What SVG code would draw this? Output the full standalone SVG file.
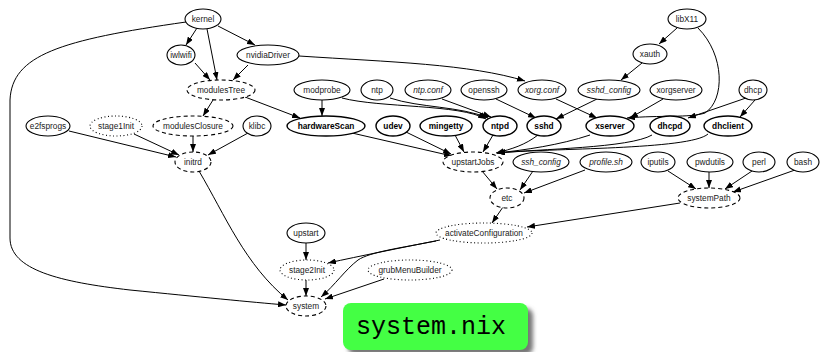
<svg xmlns="http://www.w3.org/2000/svg" width="820" height="352" viewBox="0 0 820 352">
  <style>
    .n ellipse { fill: #fff; stroke: #000; stroke-width: 1.1; }
    .n text { font-family: "Liberation Sans", Arial, sans-serif; font-size: 8.3px; fill: #222; text-anchor: middle; }
    .dashed ellipse { stroke-dasharray: 4 3; }
    .dotted ellipse { stroke-dasharray: 1 2.5; }
    .bold ellipse { stroke-width: 1.4; }
    .bold text { font-weight: bold; fill: #000; }
    .it text { font-style: italic; }
    #edges path { fill: none; stroke: #000; stroke-width: 1; marker-end: url(#arrow); }
    .title { font-family: "Liberation Mono", "Courier New", monospace; font-size: 25px; fill: #000; text-anchor: middle; }
  </style>
  <defs>
    <marker id="arrow" markerUnits="userSpaceOnUse" markerWidth="8" markerHeight="6" refX="8" refY="3" orient="auto">
      <path d="M0,0 L8,3 L0,6 z" fill="#000"/>
    </marker>
    <filter id="shadow" x="-20%" y="-40%" width="140%" height="180%">
      <feGaussianBlur stdDeviation="2.2"/>
    </filter>
  </defs>
  <rect width="820" height="352" fill="#fff"/>

  <g id="edges">
    <path d="M197,28 L186,45"/>
    <path d="M207,29 L217,80"/>
    <path d="M218,26 L255,45"/>
    <path d="M186,22 C 60,40 12,55 10,100 L 10,238 C 10,270 60,282 130,290 C 200,297 250,302 286,305"/>
    <path d="M195,63 L210,80"/>
    <path d="M248,65 L233,80"/>
    <path d="M299,56 C 390,62 470,64 525,81"/>
    <path d="M677,28 L659,44"/>
    <path d="M698,28 C 725,55 725,100 705,113 C 690,118 660,115 627,118"/>
    <path d="M642,63 L621,80"/>
    <path d="M213,100 L203,116"/>
    <path d="M245,97 L300,118"/>
    <path d="M322,100 L322,116"/>
    <path d="M342,98 C 380,108 460,104 486,119"/>
    <path d="M390,98 C 420,108 460,106 488,118"/>
    <path d="M442,99 L491,117"/>
    <path d="M496,99 L536,118"/>
    <path d="M556,99 L597,118"/>
    <path d="M597,99 L556,119"/>
    <path d="M663,99 L630,118"/>
    <path d="M746,98 L688,118"/>
    <path d="M755,100 L740,117"/>
    <path d="M69,131 L176,157"/>
    <path d="M134,134 L179,155"/>
    <path d="M193,136 L193,152"/>
    <path d="M248,133 L208,155"/>
    <path d="M352,133 L452,156"/>
    <path d="M406,132 L451,154"/>
    <path d="M455,135 L464,152"/>
    <path d="M493,135 L483,152"/>
    <path d="M538,135 C 525,145 512,149 496,153"/>
    <path d="M590,135 C 560,145 525,150 497,153"/>
    <path d="M652,135 C 630,148 540,149 497,153"/>
    <path d="M708,134 C 690,150 550,148 497,153"/>
    <path d="M199,171 C 225,215 245,265 288,300"/>
    <path d="M482,171 L497,189"/>
    <path d="M533,171 L520,190"/>
    <path d="M585,170 L524,193"/>
    <path d="M668,171 L696,189"/>
    <path d="M709,172 L709,188"/>
    <path d="M752,171 L725,189"/>
    <path d="M795,170 L733,192"/>
    <path d="M503,207 L492,223"/>
    <path d="M680,203 L527,227"/>
    <path d="M306,243 L306,260"/>
    <path d="M440,240 C 400,248 360,256 328,263"/>
    <path d="M436,241 C 400,248 370,252 358,260 C 345,270 335,285 321,297"/>
    <path d="M306,280 L306,296"/>
    <path d="M384,279 L325,299"/>
  </g>

  <g id="kernel" class="n"><ellipse cx="203" cy="19" rx="18" ry="10"/><text x="203" y="22">kernel</text></g>
  <g id="libX11" class="n"><ellipse cx="687" cy="19" rx="19" ry="10"/><text x="687" y="22">libX11</text></g>

  <g id="iwlwifi" class="n"><ellipse cx="181" cy="55" rx="14" ry="10"/><text x="181" y="58">iwlwifi</text></g>
  <g id="nvidiaDriver" class="n"><ellipse cx="268" cy="55" rx="31" ry="10"/><text x="268" y="58">nvidiaDriver</text></g>
  <g id="xauth" class="n"><ellipse cx="650" cy="54" rx="17" ry="10"/><text x="650" y="57">xauth</text></g>

  <g id="modulesTree" class="n dashed"><ellipse cx="221" cy="90" rx="34" ry="10"/><text x="221" y="93">modulesTree</text></g>
  <g id="modprobe" class="n"><ellipse cx="322" cy="90" rx="28" ry="10"/><text x="322" y="93">modprobe</text></g>
  <g id="ntp" class="n"><ellipse cx="377" cy="90" rx="16" ry="10"/><text x="377" y="93">ntp</text></g>
  <g id="ntp.conf" class="n it"><ellipse cx="428" cy="90" rx="23" ry="10"/><text x="428" y="93">ntp.conf</text></g>
  <g id="openssh" class="n"><ellipse cx="484" cy="90" rx="23" ry="10"/><text x="484" y="93">openssh</text></g>
  <g id="xorg.conf" class="n it"><ellipse cx="542" cy="90" rx="24" ry="10"/><text x="542" y="93">xorg.conf</text></g>
  <g id="sshd_config" class="n it"><ellipse cx="609" cy="90" rx="31" ry="10"/><text x="609" y="93">sshd_config</text></g>
  <g id="xorgserver" class="n"><ellipse cx="676" cy="90" rx="26" ry="10"/><text x="676" y="93">xorgserver</text></g>
  <g id="dhcp" class="n"><ellipse cx="753" cy="90" rx="14" ry="10"/><text x="753" y="93">dhcp</text></g>

  <g id="e2fsprogs" class="n"><ellipse cx="48" cy="126" rx="22" ry="10"/><text x="48" y="129">e2fsprogs</text></g>
  <g id="stage1Init" class="n dotted"><ellipse cx="116" cy="126" rx="26" ry="10"/><text x="116" y="129">stage1Init</text></g>
  <g id="modulesClosure" class="n dashed"><ellipse cx="193" cy="126" rx="40" ry="10"/><text x="193" y="129">modulesClosure</text></g>
  <g id="klibc" class="n"><ellipse cx="257" cy="126" rx="14" ry="10"/><text x="257" y="129">klibc</text></g>
  <g id="hardwareScan" class="n bold"><ellipse cx="326" cy="126" rx="39" ry="10"/><text x="326" y="129">hardwareScan</text></g>
  <g id="udev" class="n bold"><ellipse cx="393" cy="126" rx="17" ry="10"/><text x="393" y="129">udev</text></g>
  <g id="mingetty" class="n bold"><ellipse cx="446" cy="126" rx="26" ry="10"/><text x="446" y="129">mingetty</text></g>
  <g id="ntpd" class="n bold"><ellipse cx="500" cy="126" rx="17" ry="10"/><text x="500" y="129">ntpd</text></g>
  <g id="sshd" class="n bold"><ellipse cx="544" cy="126" rx="17" ry="10"/><text x="544" y="129">sshd</text></g>
  <g id="xserver" class="n bold"><ellipse cx="610" cy="126" rx="24" ry="10"/><text x="610" y="129">xserver</text></g>
  <g id="dhcpd" class="n bold"><ellipse cx="670" cy="126" rx="20" ry="10"/><text x="670" y="129">dhcpd</text></g>
  <g id="dhclient" class="n bold"><ellipse cx="728" cy="126" rx="24" ry="10"/><text x="728" y="129">dhclient</text></g>

  <g id="initrd" class="n dashed"><ellipse cx="193" cy="162" rx="18" ry="10"/><text x="193" y="165">initrd</text></g>
  <g id="upstartJobs" class="n dashed"><ellipse cx="473" cy="162" rx="30" ry="10"/><text x="473" y="165">upstartJobs</text></g>
  <g id="ssh_config" class="n it"><ellipse cx="541" cy="162" rx="28" ry="10"/><text x="541" y="165">ssh_config</text></g>
  <g id="profile.sh" class="n it"><ellipse cx="606" cy="162" rx="26" ry="10"/><text x="606" y="165">profile.sh</text></g>
  <g id="iputils" class="n"><ellipse cx="658" cy="162" rx="17" ry="10"/><text x="658" y="165">iputils</text></g>
  <g id="pwdutils" class="n"><ellipse cx="710" cy="162" rx="23" ry="10"/><text x="710" y="165">pwdutils</text></g>
  <g id="perl" class="n"><ellipse cx="759" cy="162" rx="16" ry="10"/><text x="759" y="165">perl</text></g>
  <g id="bash" class="n"><ellipse cx="803" cy="162" rx="16" ry="10"/><text x="803" y="165">bash</text></g>

  <g id="etc" class="n dashed"><ellipse cx="507" cy="198" rx="17" ry="10"/><text x="507" y="201">etc</text></g>
  <g id="systemPath" class="n dashed"><ellipse cx="709" cy="198" rx="31" ry="10"/><text x="709" y="201">systemPath</text></g>

  <g id="upstart" class="n"><ellipse cx="306" cy="233" rx="19" ry="10"/><text x="306" y="236">upstart</text></g>
  <g id="activateConfiguration" class="n dotted"><ellipse cx="484" cy="233" rx="48" ry="10"/><text x="484" y="236">activateConfiguration</text></g>

  <g id="stage2Init" class="n dotted"><ellipse cx="307" cy="270" rx="27" ry="10"/><text x="307" y="273">stage2Init</text></g>
  <g id="grubMenuBuilder" class="n dotted"><ellipse cx="410" cy="270" rx="42" ry="10"/><text x="410" y="273">grubMenuBuilder</text></g>

  <g id="system" class="n dashed"><ellipse cx="306" cy="306" rx="20" ry="10"/><text x="306" y="309">system</text></g>

  <g id="label">
    <rect x="348" y="308" width="185" height="47" rx="8" fill="#777" filter="url(#shadow)"/>
    <rect x="343" y="303" width="185" height="47" rx="8" fill="#44ff44"/>
    <text class="title" x="431" y="334">system.nix</text>
  </g>
</svg>
